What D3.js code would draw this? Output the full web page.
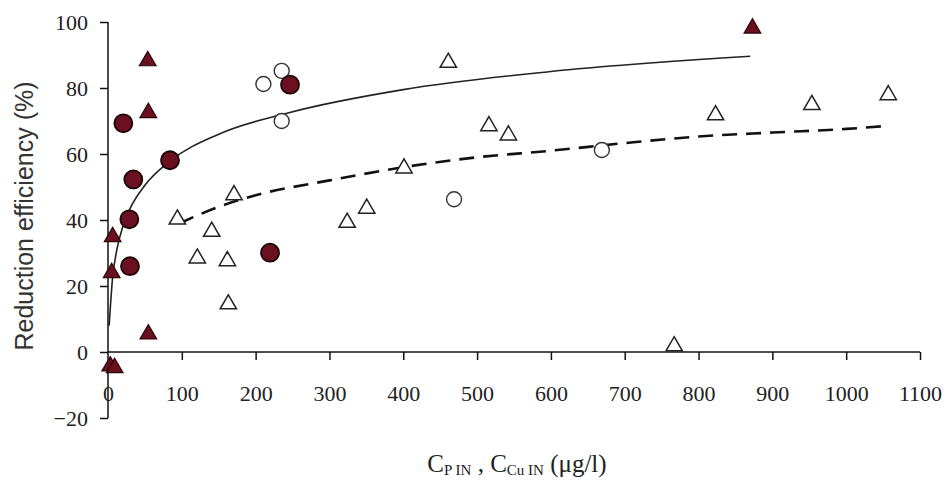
<!DOCTYPE html>
<html>
<head>
<meta charset="utf-8">
<script src="https://cdn.jsdelivr.net/npm/d3@7/dist/d3.min.js"></script>
<style>
  html, body { margin: 0; padding: 0; background: #fff; }
  svg { display: block; }
</style>
</head>
<body>
<svg id="chart" width="947" height="484"></svg>
<script>
// ---- data ----
const xTicks = [0, 100, 200, 300, 400, 500, 600, 700, 800, 900, 1000, 1100];
const yTicks = [-20, 0, 20, 40, 60, 80, 100];

// filled dark-red circles
const filledCircles = [
  [20.8, 69.3], [34.3, 52.3], [28.9, 40.2], [29.8, 26], [84, 58.1],
  [219.5, 30.1], [246.6, 81]
];
// filled dark-red triangles
const filledTriangles = [
  [53.8, 88.5], [54.6, 72.8], [6.3, 35.2], [5, 24.3], [54.6, 5.7],
  [3, -4], [9, -4.5], [873, 98.4]
];
// open circles
const openCircles = [
  [210.5, 81.2], [235.3, 85.2], [235.3, 70], [468.8, 46.3], [669, 61.2]
];
// open triangles
const openTriangles = [
  [94, 40.5], [121, 28.7], [140.5, 36.8], [161.7, 27.9], [163, 14.8], [170.7, 47.9],
  [324, 39.5], [350.5, 43.8], [401, 56], [461, 88], [516, 68.8], [542.4, 66],
  [767, 2.1], [823, 72.1], [953.5, 75.2], [1057, 78.2]
];
// solid trend curve
const solidCurve = [
  [1.5, 8], [3, 13], [6, 22], [12, 31], [20, 38], [30, 43.5], [50, 50.5],
  [85, 58], [150, 66], [245, 72.5], [400, 79.5], [600, 85], [870, 89.6]
];
// dashed trend curve
const dashedCurve = [
  [97, 39], [150, 44], [200, 47.5], [300, 52], [400, 56], [500, 59],
  [600, 61], [700, 63.3], [800, 65.3], [900, 66.5], [1000, 67.6], [1055, 68.5]
];

// ---- layout ----
const svg = d3.select("#chart");
const x = d3.scaleLinear().domain([0, 1100]).range([108, 920]);
const y = d3.scaleLinear().domain([-20, 100]).range([418, 22]);

const red = "#6a1020";
const serif = "'Liberation Serif', 'Times New Roman', serif";

// trend lines
const line = d3.line().x(d => x(d[0])).y(d => y(d[1])).curve(d3.curveMonotoneX);
svg.append("path").attr("d", line(solidCurve))
  .attr("fill", "none").attr("stroke", "#222").attr("stroke-width", 1.6);
svg.append("path").attr("d", line(dashedCurve))
  .attr("fill", "none").attr("stroke", "#111").attr("stroke-width", 2.6)
  .attr("stroke-dasharray", "15,9");

// axes
const yAxis = d3.axisLeft(y).tickValues(yTicks).tickSize(8).tickFormat(d3.format("d"));
const gy = svg.append("g").attr("transform", `translate(${x(0)},0)`).call(yAxis);
gy.select(".domain").attr("d", `M0,${y(-20)}V${y(100)}`);
gy.selectAll(".tick line").attr("stroke", "#111").attr("stroke-width", 1.5);
gy.select(".domain").attr("stroke", "#111").attr("stroke-width", 1.5);
gy.selectAll(".tick text").attr("x", -20).attr("dy", "0.35em")
  .attr("font-family", serif).attr("font-size", 22).attr("fill", "#222");

const xAxis = d3.axisBottom(x).tickValues(xTicks).tickSize(8).tickFormat(d3.format("d"));
const gx = svg.append("g").attr("transform", `translate(0,${y(0)})`).call(xAxis);
gx.select(".domain").attr("d", `M${x(0)},0H${x(1100)}`)
  .attr("stroke", "#111").attr("stroke-width", 1.5);
gx.selectAll(".tick line").attr("stroke", "#111").attr("stroke-width", 1.5)
  .filter(d => d === 0).remove();
gx.selectAll(".tick text").attr("y", 0).attr("dy", "49")
  .attr("font-family", serif).attr("font-size", 22).attr("fill", "#222");
gy.raise();

// markers
const tri = d3.symbol().type(d3.symbolTriangle).size(120);
const triOpen = d3.symbol().type(d3.symbolTriangle).size(115);

svg.append("g").selectAll("path").data(openTriangles).join("path")
  .attr("d", triOpen)
  .attr("transform", d => `translate(${x(d[0])},${y(d[1]) + 1})`)
  .attr("fill", "#fff").attr("stroke", "#222").attr("stroke-width", 1.5);

svg.append("g").selectAll("circle").data(openCircles).join("circle")
  .attr("cx", d => x(d[0])).attr("cy", d => y(d[1])).attr("r", 7.5)
  .attr("fill", "#fff").attr("stroke", "#333").attr("stroke-width", 1.4);

svg.append("g").selectAll("circle").data(filledCircles).join("circle")
  .attr("cx", d => x(d[0])).attr("cy", d => y(d[1])).attr("r", 9)
  .attr("fill", red).attr("stroke", "#1a0505").attr("stroke-width", 1.8);

svg.append("g").selectAll("path").data(filledTriangles).join("path")
  .attr("d", tri)
  .attr("transform", d => `translate(${x(d[0])},${y(d[1]) + 1})`)
  .attr("fill", red).attr("stroke", "#2a0508").attr("stroke-width", 1.2);

// axis titles
svg.append("text")
  .attr("transform", `translate(33,216) rotate(-90)`)
  .attr("text-anchor", "middle")
  .attr("font-family", "'Liberation Sans', Arial, sans-serif")
  .attr("font-size", 25).attr("fill", "#333")
  .text("Reduction efficiency (%)");

const xt = svg.append("text")
  .attr("x", 517).attr("y", 472).attr("text-anchor", "middle")
  .attr("font-family", serif).attr("font-size", 25).attr("fill", "#222");
xt.append("tspan").text("C");
xt.append("tspan").attr("font-size", 15).attr("dy", 3).text("P IN");
xt.append("tspan").attr("dy", -3).text(" , ");
xt.append("tspan").text("C");
xt.append("tspan").attr("font-size", 15).attr("dy", 3).text("Cu IN");
xt.append("tspan").attr("dy", -3).text(" (μg/l)");
</script>
</body>
</html>
